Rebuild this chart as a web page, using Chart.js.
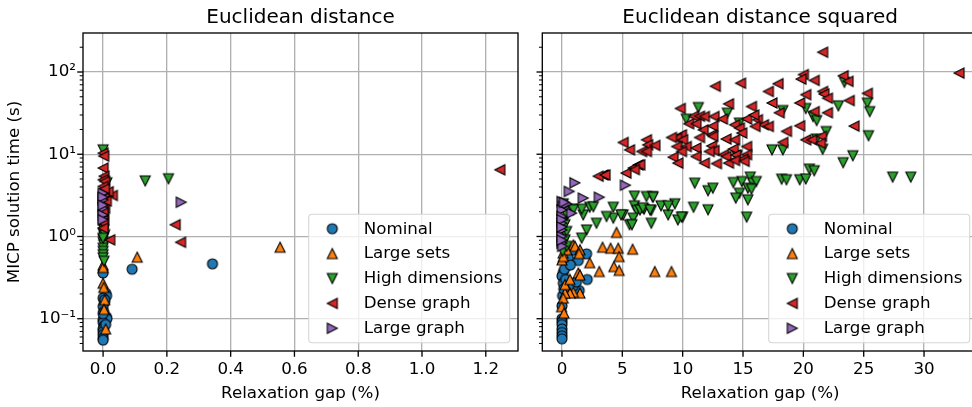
<!DOCTYPE html>
<html><head><meta charset="utf-8">
<script src="https://cdn.jsdelivr.net/npm/chart.js"></script>
<style>
html,body{margin:0;padding:0;overflow:hidden;background:#fff;width:972px;height:407px;}
#c1{position:absolute;left:0;top:0;}
#c2{position:absolute;left:525px;top:0;}
</style></head><body>
<canvas id="c1" width="525" height="407" style="width:525px;height:407px"></canvas>
<canvas id="c2" width="460" height="407" style="width:460px;height:407px"></canvas>
<script>
// ---------- DATA ----------
const seriesNames = ["Nominal", "Large sets", "High dimensions", "Dense graph", "Large graph"];
const panelTitles = ["Euclidean distance", "Euclidean distance squared"];
const xTitle = "Relaxation gap (%)";
const yTitle = "MICP solution time (s)";
const yTickLabels = {"-1": "10\u207B\u00B9", "0": "10\u2070", "1": "10\u00B9", "2": "10\u00B2"};

// Panel 1: Euclidean distance  [gap %, time s]
const edNominal = [[0.091,0.40],[0.343,0.465],[0.0,0.36],[0.008,0.205],[0.011,0.19],[0.0,0.178],[0.005,0.16],[0.0,0.141],[0.002,0.122],[0.01,0.106],[0.0,0.097],[0.012,0.10],[0.0,0.09],[0.003,0.081],[0.0,0.075],[0.0,0.07],[0.0,0.064],[0.0,0.058],[0.0,0.055],[0.005,0.17],[0.0,0.115],[0.008,0.085]];
const edLargeSets = [[0.107,0.56],[0.555,0.74],[0.0,0.45],[0.0,0.27],[0.002,0.24],[0.005,0.17],[0.003,0.13],[0.008,0.075],[0.0,0.42]];
const edHighDim = [[0.0,11.3],[0.012,4.5],[0.132,4.74],[0.205,5.03],[0.0,1.5],[0.0,1.32],[0.002,1.2],[0.0,1.1],[0.003,1.0],[0.0,0.92],[0.0,0.85],[0.002,0.79],[0.0,0.72],[0.0,0.66],[0.0,0.6],[0.0,0.55],[0.003,0.5],[0.005,1.05],[0.0,0.95]];
const edDense = [[1.244,6.47],[0.226,1.39],[0.243,0.85],[0.029,3.15],[0.016,3.5],[0.0,10.3],[0.002,9.5],[0.0,6.8],[0.003,5.4],[0.0,4.9],[0.005,4.67],[0.0,4.06],[0.002,3.6],[0.0,3.37],[0.003,2.93],[0.0,2.55],[0.005,2.21],[0.0,1.84],[0.002,1.6],[0.0,1.45],[0.0,1.26],[0.021,0.91],[0.0,2.0],[0.004,3.8],[0.01,2.7]];
const edLargeGraph = [[0.245,2.61],[0.0,3.36],[0.0,2.79],[0.0,2.21],[0.0,1.83],[0.0,3.0],[0.0,2.4],[0.0,1.6]];

// Panel 2: Euclidean distance squared  [gap %, time s]
const edsNominal = [[0.88,0.68],[2.04,0.615],[0.52,0.55],[1.35,0.51],[0.39,0.44],[0.11,0.365],[0.0,0.33],[0.6,0.26],[1.43,0.22],[2.09,0.30],[0.05,0.19],[0.0,0.143],[0.0,0.10],[0.0,0.092],[0.0,0.085],[0.0,0.075],[0.0,0.068],[0.0,0.062],[0.0,0.057],[0.11,0.27],[0.94,0.25],[0.3,0.3],[0.2,0.4],[0.7,0.45],[0.15,0.23],[1.2,0.28]];
const edsLargeSets = [[4.52,1.12],[3.36,0.74],[4.03,0.72],[4.66,0.72],[4.74,0.57],[5.85,0.70],[4.3,0.43],[4.74,0.387],[3.09,0.375],[7.69,0.375],[9.07,0.375],[2.3,0.48],[0.94,0.79],[1.08,0.76],[1.49,0.69],[1.43,0.62],[1.35,0.36],[1.49,0.34],[1.49,0.205],[0.94,0.21],[0.66,0.205],[0.25,0.205],[0.11,0.178],[0.0,0.52],[0.1,0.63],[0.39,0.69],[0.11,0.57],[-0.03,0.14],[0.17,0.117],[0.25,0.26],[0.66,0.30]];
const edsHighDim = [[11.3,37],[10.3,26.7],[13.7,31.6],[18.3,34],[20.2,36],[20.8,28.8],[21.1,25.7],[22.9,38.8],[23.4,75],[25.3,41.8],[25.5,33],[25.4,16.8],[21.1,15.3],[21.9,18.9],[21.6,11.5],[14.7,23.9],[14.5,9.6],[17.4,11.3],[18.3,11.3],[24.1,9.6],[23.3,7.9],[20.5,6.6],[20.9,6.3],[27.4,5.27],[28.9,5.27],[18.2,4.98],[18.6,4.9],[19.7,4.9],[20.2,5.0],[15.6,5.27],[14.9,4.66],[14.2,4.53],[15.8,4.45],[16.1,4.66],[15.4,3.87],[15.7,3.76],[14.7,3.36],[14.4,2.93],[15.4,2.79],[15.3,1.72],[11.0,4.45],[12.1,3.6],[12.5,3.87],[10.9,2.27],[12.1,2.11],[10.0,1.72],[9.6,1.59],[9.35,2.5],[8.8,1.83],[8.2,2.36],[7.5,3.06],[7.0,3.06],[6.0,3.1],[6.0,2.36],[6.2,2.07],[6.8,2.15],[7.4,2.07],[7.4,1.45],[5.9,1.67],[5.6,1.39],[5.07,1.83],[4.25,2.27],[4.25,1.67],[3.69,1.75],[2.86,1.45],[2.3,2.27],[1.76,1.83],[1.63,2.15],[2.04,1.2],[1.63,0.955],[0.8,2.15],[0.39,1.83],[0.11,1.45],[0.25,1.1],[0.11,0.83],[0.05,0.66],[0.11,2.5],[6.47,2.1],[8.8,2.36],[6.7,2.23],[7.3,2.1],[9.9,1.72],[4.9,1.83],[5.8,1.39],[2.6,2.3],[0.25,1.39],[0.39,1.15],[0.25,0.91],[0.39,0.76],[0.94,2.11],[7.55,3.0]];
const edsDense = [[21.6,174],[32.9,97],[20.0,93],[19.8,82],[23.3,90],[23.7,77],[20.9,79],[17.9,72],[14.8,73],[12.7,67],[17.1,58],[21.6,58],[21.7,54],[25.3,55],[20.2,53],[22.0,48],[23.8,45],[17.4,42],[19.7,42],[13.8,41],[9.8,36],[15.7,38],[20.9,33],[22.0,32],[18.0,32],[10.5,23.5],[10.9,29],[11.4,29],[11.8,28.8],[12.6,28.8],[13.3,26.8],[15.3,26.8],[16.2,26.3],[15.9,30],[16.7,22.8],[17.1,21.8],[16.0,21.8],[24.2,22],[14.3,22.8],[14.7,20.8],[11.7,19.8],[11.1,23.5],[12.5,22],[18.6,19],[19.7,22.2],[14.9,18.1],[12.4,17.2],[12.5,16.5],[9.9,17.2],[9.5,15.6],[10.0,15],[13.6,15.3],[14.3,15.0],[11.4,16],[9.07,16],[7.0,15],[20.2,15.0],[20.7,15.0],[21.5,16.5],[21.4,13.6],[18.3,13.9],[5.07,13.9],[5.6,11.3],[7.1,13],[7.7,12.8],[6.6,10.8],[7.0,10.8],[9.5,12.4],[10.3,12.4],[9.9,10.8],[11.1,11.9],[12.4,12.6],[15.3,12.4],[14.2,11.6],[12.6,11.1],[12.2,10.8],[15.3,9.9],[13.4,9.9],[9.2,9.2],[11.1,9.4],[13.6,9.4],[14.4,9.8],[15.0,8.7],[13.8,7.8],[14.3,8.4],[15.1,8.2],[11.8,7.8],[12.8,7.7],[9.6,7.8],[6.3,7.4],[5.9,6.8],[5.3,5.9],[3.4,5.6],[3.0,5.4],[3.57,5.6],[6.45,7.45],[6.0,6.5]];
const edsLargeGraph = [[1.07,4.5],[0.6,3.53],[1.76,2.93],[3.09,3.0],[5.25,4.2],[0.0,2.66],[0.11,2.32],[0.4,2.5],[0.8,1.92],[0.0,2.1],[0.0,1.75],[0.0,1.45],[0.0,1.2],[0.0,1.0],[0.0,0.83],[0.05,0.76],[0.2,2.6],[0.0,1.6],[0.0,1.3],[0.0,0.9]];

// ---------- STYLE ----------
const colors = ["#1f77b4", "#ff7f0e", "#2ca02c", "#d62728", "#9467bd"];
const shapes = ["circle", "up", "down", "left", "right"];
const FONT = "DejaVu Sans";
Chart.defaults.font.family = FONT;
Chart.defaults.font.size = 16.7;
Chart.defaults.color = "#000";

function makeMarker(shape, fill) {
  const c = document.createElement("canvas");
  c.width = 18; c.height = 18;
  const g = c.getContext("2d");
  const cx = 9, cy = 9, h = 5;
  g.fillStyle = fill; g.strokeStyle = "#000"; g.lineWidth = 1.1; g.lineJoin = "miter";
  g.beginPath();
  if (shape === "circle") g.arc(cx, cy, 5, 0, Math.PI * 2);
  else if (shape === "up") { g.moveTo(cx, cy - h); g.lineTo(cx - h, cy + h); g.lineTo(cx + h, cy + h); }
  else if (shape === "down") { g.moveTo(cx, cy + h); g.lineTo(cx - h, cy - h); g.lineTo(cx + h, cy - h); }
  else if (shape === "left") { g.moveTo(cx - h, cy); g.lineTo(cx + h, cy - h); g.lineTo(cx + h, cy + h); }
  else { g.moveTo(cx + h, cy); g.lineTo(cx - h, cy - h); g.lineTo(cx - h, cy + h); }
  g.closePath(); g.fill(); g.stroke();
  return c;
}
const markers = shapes.map((s, i) => makeMarker(s, colors[i]));

function isPow10(v) { const l = Math.log10(v); return Math.abs(l - Math.round(l)) < 1e-9; }

const framePlugin = {
  id: "frame",
  afterDatasetsDraw(chart) {
    const { ctx, chartArea: a, scales: { x, y } } = chart;
    ctx.save();
    ctx.strokeStyle = "#000";
    for (let e = -2; e <= 3; e++) for (let m = 1; m < 10; m++) {
      const v = m * Math.pow(10, e);
      if (v < y.min || v > y.max) continue;
      const py = y.getPixelForValue(v);
      const len = m === 1 ? 5.8 : 3.3;
      ctx.lineWidth = m === 1 ? 1.33 : 1;
      ctx.beginPath(); ctx.moveTo(a.left, py); ctx.lineTo(a.left - len, py); ctx.stroke();
    }
    ctx.lineWidth = 1.33;
    x.ticks.forEach(t => {
      const px = x.getPixelForValue(t.value);
      ctx.beginPath(); ctx.moveTo(px, a.bottom); ctx.lineTo(px, a.bottom + 5.8); ctx.stroke();
    });
    ctx.strokeRect(a.left, a.top, a.right - a.left, a.bottom - a.top);
    ctx.restore();
  },
  afterDraw(chart, args, opts) {
    const { ctx, chartArea: a } = chart;
    ctx.save();
    // title
    ctx.fillStyle = "#000";
    ctx.font = "20px '" + FONT + "'";
    ctx.textAlign = "center"; ctx.textBaseline = "alphabetic";
    ctx.fillText(opts.title, (a.left + a.right) / 2, 23);
    // legend
    const w = 201, h = 128.4;
    const lx = a.right - 8.3 - w, ly = a.bottom - 8.3 - h;
    ctx.beginPath();
    ctx.roundRect(lx, ly, w, h, 3.5);
    ctx.fillStyle = "rgba(255,255,255,0.8)"; ctx.fill();
    ctx.strokeStyle = "#d6d6d6"; ctx.lineWidth = 1.1; ctx.stroke();
    ctx.font = "16.7px '" + FONT + "'";
    ctx.textAlign = "left"; ctx.textBaseline = "middle"; ctx.fillStyle = "#000";
    chart.data.datasets.forEach((ds, i) => {
      const yy = ly + 14.4 + i * 24.9;
      const m = ds.pointStyle;
      ctx.drawImage(m, lx + 23.6 - m.width / 2, yy - m.height / 2);
      ctx.fillText(ds.label, lx + 55, yy + 0.5);
    });
    ctx.restore();
  }
};

function makeChart(id, seriesData, xMin, xMax, xStep, xFmt, yWidth, showYLabels, padRight, title) {
  return new Chart(document.getElementById(id), {
    type: "scatter",
    data: {
      datasets: seriesData.map((d, i) => ({
        label: seriesNames[i],
        data: d.map(p => ({ x: p[0], y: p[1] })),
        pointStyle: markers[i],
        pointRadius: 6,
        order: 5 - i
      }))
    },
    options: {
      responsive: false, animation: false, events: [],
      layout: { padding: { top: 33, right: padRight, left: 0, bottom: 0 } },
      plugins: { legend: { display: false }, tooltip: { enabled: false }, frame: { title: title } },
      scales: {
        x: {
          type: "linear", min: xMin, max: xMax,
          afterFit: s => { s.height = 56; },
          border: { display: false },
          grid: { color: "#b0b0b0", lineWidth: 1.33, drawTicks: false },
          ticks: { stepSize: xStep, includeBounds: false, padding: 9, callback: v => xFmt(v), font: { size: 16.7 } },
          title: { display: true, text: xTitle, font: { size: 16.7 }, padding: { top: 0, bottom: 3 } }
        },
        y: {
          type: "logarithmic", min: 0.0405, max: 298,
          afterFit: s => { s.width = yWidth; },
          border: { display: false },
          grid: {
            drawTicks: false, lineWidth: 1.33,
            color: c => (c.tick && isPow10(c.tick.value)) ? "#b0b0b0" : "rgba(0,0,0,0)"
          },
          ticks: {
            display: showYLabels, autoSkip: false, padding: 7, font: { size: 16.7 },
            callback: v => isPow10(v) ? (yTickLabels[String(Math.round(Math.log10(v)))] || "") : ""
          },
          title: { display: showYLabels, text: yTitle, font: { size: 16.7 }, padding: { top: 5, bottom: 0 } }
        }
      }
    },
    plugins: [framePlugin]
  });
}

makeChart("c1", [edNominal, edLargeSets, edHighDim, edDense, edLargeGraph],
  -0.063, 1.301, 0.2, v => v.toFixed(1), 83, true, 5, panelTitles[0]);
makeChart("c2", [edsNominal, edsLargeSets, edsHighDim, edsDense, edsLargeGraph],
  -1.63, 34.47, 5, v => String(Math.round(v)), 17.3, false, 6.3, panelTitles[1]);
</script>
</body></html>
